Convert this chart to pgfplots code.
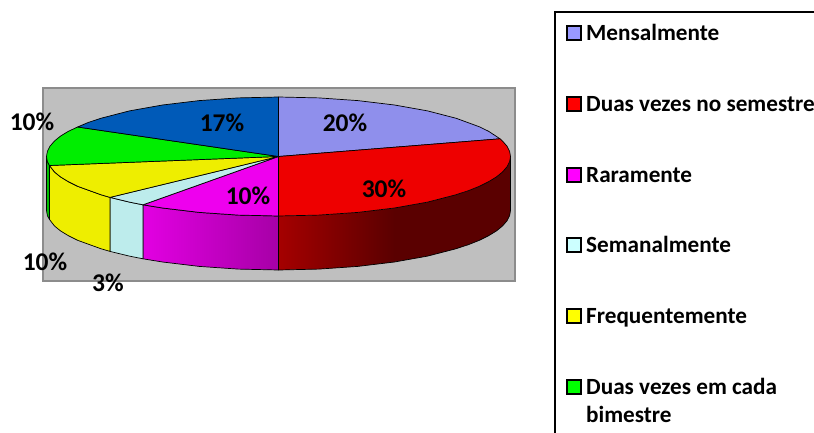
\documentclass[border=0pt]{standalone}
\usepackage{fontspec}
\setmainfont{Carlito}
\usepackage{pgfplots}
\pgfplotsset{compat=1.18}
\definecolor{cMens}{RGB}{143,143,236}
\definecolor{cRed}{RGB}{238,0,0}
\definecolor{cMag}{RGB}{238,0,238}
\definecolor{cCya}{RGB}{189,236,236}
\definecolor{cYel}{RGB}{238,238,0}
\definecolor{cGre}{RGB}{0,238,0}
\definecolor{cBlu}{RGB}{0,90,184}
\definecolor{wallRedA}{RGB}{165,0,0}
\definecolor{wallRedB}{RGB}{90,0,0}
\definecolor{keyMens}{RGB}{153,153,255}
\definecolor{keyRed}{RGB}{255,0,0}
\definecolor{keyMag}{RGB}{255,0,255}
\definecolor{keyCya}{RGB}{204,255,255}
\definecolor{keyYel}{RGB}{255,255,0}
\definecolor{keyGre}{RGB}{0,255,0}
\newcommand{\lab}{\fontsize{25.5}{29}\selectfont\bfseries}
\newcommand{\leg}{\fontsize{23.2}{27}\selectfont\bfseries}
\pgfplotsset{
  slice/.style={draw=black, line width=0.7pt, line join=round},
  key/.style={only marks, mark=square*, mark size=6.6pt,
    mark options={draw=black, line width=2pt, fill=#1}}
}
\begin{document}
\begin{tikzpicture}
\useasboundingbox (0,0) rectangle (814pt,433pt);
\begin{axis}[
  at={(0,0)}, anchor=south west,
  scale only axis, width=814pt, height=433pt,
  xmin=0, xmax=814, ymin=0, ymax=433, y dir=reverse,
  hide axis, clip=false
  ]
  % plot area
  \addplot[fill=black!25, draw=black!45, line width=2pt] coordinates {(43,88) (515,88) (515,281) (43,281)} --cycle;

  % side walls, the red one is shaded up to x=394 and flat after that
  \addplot[draw=none, left color=wallRedA, right color=wallRedB] coordinates {
    (394.5,208) (357.8,212.4) (318.8,215.1) (278.5,216)
    (278.5,270) (318.8,269.1) (357.8,266.4) (394.5,262)
  } --cycle;
  \addplot[draw=none, fill=wallRedB] coordinates {
    (510.5,156.5) (509.6,161.7) (507,166.8) (502.6,171.9) (496.5,176.9) (488.8,181.6) (479.4,186.3) (468.6,190.6)
    (456.2,194.7) (427.6,202.1) (394,208)
    (394,262) (427.6,256.1) (456.2,248.7) (468.6,244.6) (479.4,240.3)
    (488.8,235.6) (496.5,230.9) (502.6,225.9) (507,220.8) (509.6,215.7) (510.5,210.5)
  } --cycle;
  \addplot[slice] coordinates {
    (510.5,156.5) (510.5,210.5) (509.6,215.7) (507,220.8) (502.6,225.9) (496.5,230.9) (488.8,235.6) (479.4,240.3)
    (468.6,244.6) (456.2,248.7) (427.6,256.1) (394.5,262) (357.8,266.4) (318.8,269.1) (278.5,270) (278.5,216)
  };
  \addplot[slice, left color=cMag!95!black, right color=cMag!70!black] coordinates {
    (278.5,216) (238.2,215.1) (199.2,212.4) (162.5,208) (143,204.8)
    (143,258.8) (162.5,262) (199.2,266.4) (238.2,269.1) (278.5,270)
  } --cycle;
  \addplot[slice, fill=cCya] coordinates {
    (143,204.8) (129.4,202.1) (110,197.4) (110,251.4) (129.4,256.1) (143,258.8)
  } --cycle;
  \addplot[slice, fill=cYel] coordinates {
    (110,197.4) (100.8,194.7) (77.6,186.3) (68.2,181.6) (60.5,176.9) (54.4,171.9) (49.5,165.5)
    (49.5,219.5) (54.4,225.9) (60.5,230.9) (68.2,235.6) (77.6,240.3) (100.8,248.7) (110,251.4)
  } --cycle;
  \addplot[slice, fill=cGre!80!black] coordinates {
    (49.5,165.5) (47.4,161.7) (46.5,156.5) (46.5,210.5) (47.4,215.7) (49.5,219.5)
  } --cycle;

  % top of the pie
  \addplot[slice, fill=cMens] coordinates {
    (278.5,156.5) (278.5,97) (318.8,97.9) (357.8,100.6) (394.5,105) (427.6,110.9) (456.2,118.3) (479.4,126.8)
    (488.8,131.4) (500,138.8)
  } --cycle;
  \addplot[slice, fill=cRed] coordinates {
    (278.5,156.5) (500,138.8) (502.6,141.1) (507,146.2) (509.6,151.3) (510.5,156.5) (509.6,161.7) (507,166.8)
    (502.6,171.9) (496.5,176.9) (488.8,181.6) (479.4,186.3) (468.6,190.6) (456.2,194.7) (427.6,202.1)
    (394.5,208) (357.8,212.4) (318.8,215.1) (278.5,216)
  } --cycle;
  \addplot[slice, fill=cMag] coordinates {
    (278.5,156.5) (278.5,216) (238.2,215.1) (199.2,212.4) (162.5,208) (143,204.8)
  } --cycle;
  \addplot[slice, fill=cCya] coordinates {
    (278.5,156.5) (143,204.8) (129.4,202.1) (110,197.4)
  } --cycle;
  \addplot[slice, fill=cYel] coordinates {
    (278.5,156.5) (110,197.4) (100.8,194.7) (77.6,186.3) (68.2,181.6) (60.5,176.9) (54.4,171.9) (49.5,165.5)
  } --cycle;
  \addplot[slice, fill=cGre] coordinates {
    (278.5,156.5) (49.5,165.5) (47.4,161.7) (46.5,156.5) (47.4,151.3) (50,146.2) (54.4,141.1) (60.5,136.1)
    (68.2,131.4) (77.6,127)
  } --cycle;
  \addplot[slice, fill=cBlu] coordinates {
    (278.5,156.5) (77.6,127) (88.4,122.4) (100.8,118.3) (129.4,110.9) (162.5,105) (199.2,100.6) (238.2,97.9) (278.5,97)
  } --cycle;

  % percentages
  \node[font=\lab] at (axis cs:345,123) {20\%};
  \node[font=\lab] at (axis cs:384,189) {30\%};
  \node[font=\lab] at (axis cs:248,196) {10\%};
  \node[font=\lab] at (axis cs:222,123) {17\%};
  \node[font=\lab] at (axis cs:32,122) {10\%};
  \node[font=\lab] at (axis cs:45,262) {10\%};
  \node[font=\lab] at (axis cs:108,283) {3\%};

  % legend box, runs off the page on the right and at the bottom
  \addplot[draw=black, line width=2pt] coordinates {(555,433) (555,12) (814,12)};
  \addplot[key=keyMens] coordinates {(574,33)};
  \addplot[key=keyRed] coordinates {(574,104)};
  \addplot[key=keyMag] coordinates {(574,175)};
  \addplot[key=keyCya] coordinates {(574,245)};
  \addplot[key=keyYel] coordinates {(574,316)};
  \addplot[key=keyGre] coordinates {(574,387)};
  \node[font=\leg, anchor=base west, inner sep=0pt] at (axis cs:586,40.6) {Mensalmente};
  \node[font=\leg, anchor=base west, inner sep=0pt] at (axis cs:586,111.6) {Duas vezes no semestre};
  \node[font=\leg, anchor=base west, inner sep=0pt] at (axis cs:586,182.4) {Raramente};
  \node[font=\leg, anchor=base west, inner sep=0pt] at (axis cs:586,252.6) {Semanalmente};
  \node[font=\leg, anchor=base west, inner sep=0pt] at (axis cs:586,323.4) {Frequentemente};
  \node[font=\leg, anchor=base west, inner sep=0pt] at (axis cs:586,394.6) {Duas vezes em cada};
  \node[font=\leg, anchor=base west, inner sep=0pt] at (axis cs:586,422.4) {bimestre};
\end{axis}
\end{tikzpicture}
\end{document}
